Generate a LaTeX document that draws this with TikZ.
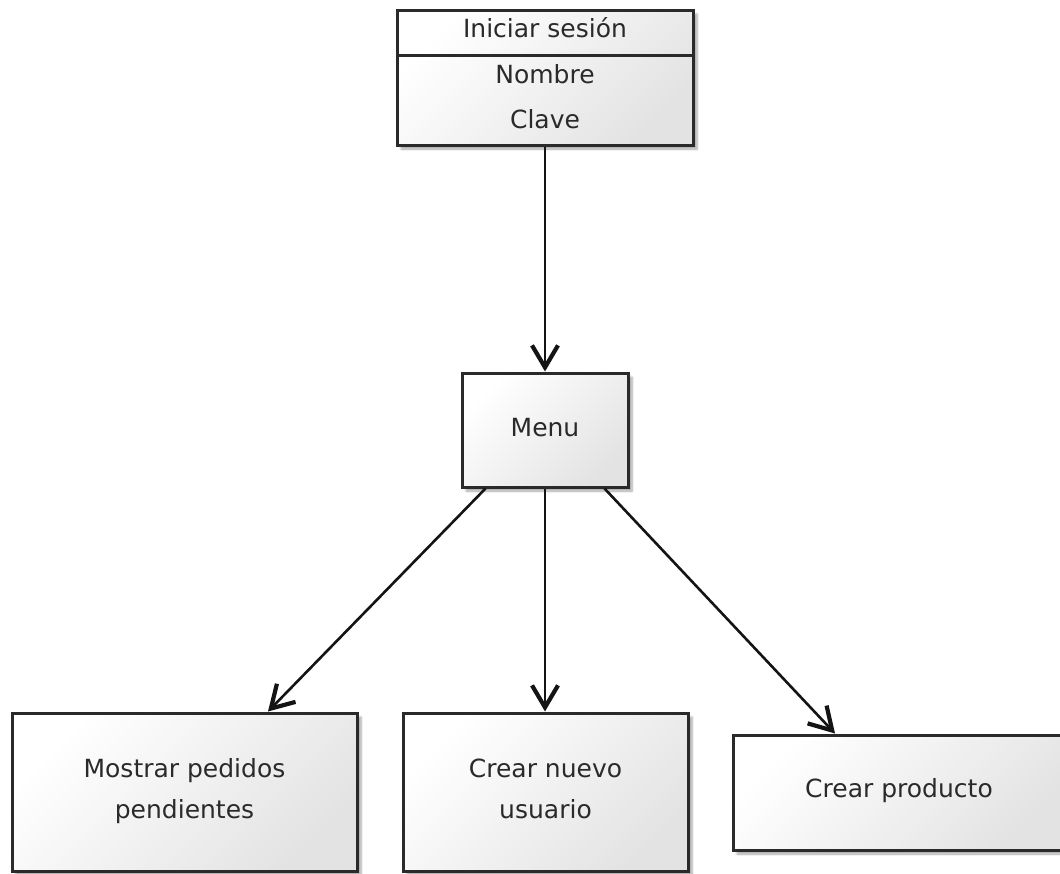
\documentclass[tikz,border=0pt]{standalone}
\usepackage{fontspec}
\setmainfont{DejaVu Sans}
\usetikzlibrary{arrows.meta,shadows.blur,calc}
\definecolor{txt}{HTML}{2A2A2A}
\definecolor{edge}{HTML}{2A2A2A}
\tikzset{
  boxstyle/.style={rectangle, draw=edge, line width=3pt, inner sep=0pt,
    top color=white, bottom color=black!11, shading angle=45,
    blur shadow={shadow xshift=4pt, shadow yshift=-4pt, shadow blur steps=6, shadow opacity=35}},
  lbl/.style={text=txt, font=\fontsize{25pt}{41pt}\selectfont, inner sep=0pt, anchor=base, align=center},
  conn/.style={draw=black!92, line width=2.6pt, -{Straight Barb[length=22pt,width=26pt,line width=4.2pt]}}
}
\begin{document}
\begin{tikzpicture}[x=1pt,y=-1pt]
\useasboundingbox (0,0) rectangle (1060,873);
% login class box
\node[boxstyle, minimum width=296pt, minimum height=135pt] (login) at (545,77.5) {};
\coordinate (divl) at (397,55);
\coordinate (divr) at (693,55);
\draw[draw=edge, line width=3pt] (divl) -- (divr);
\node[lbl] (title) at (545,37) {Iniciar sesión};
\node[lbl] (nombre) at (545,83) {Nombre};
\node[lbl] (clave) at (545,128) {Clave};
% menu
\node[boxstyle, minimum width=166pt, minimum height=114pt] (menu) at (545,430) {};
\node[lbl] (menut) at (545,436) {Menu};
% bottom boxes
\node[boxstyle, minimum width=345pt, minimum height=158pt] (left) at (184.5,792) {};
\node[lbl] (leftt) at (184.5,818) {Mostrar pedidos\\pendientes};
\node[boxstyle, minimum width=285pt, minimum height=158pt] (mid) at (545.5,792) {};
\node[lbl] (midt) at (545.5,818) {Crear nuevo\\usuario};
\node[boxstyle, minimum width=332pt, minimum height=115pt] (right) at (899,792.5) {};
\node[lbl] (rightt) at (899,797) {Crear producto};
% connectors
\draw[conn] (login.south) -- (menu.north);
\draw[conn] ([xshift=25pt]menu.south west) -- ([xshift=83.5pt]left.north);
\draw[conn] (menu.south) -- (mid.north -| menu.south);
\draw[conn] ([xshift=-25pt]menu.south east) -- ([xshift=-64pt]right.north);
\end{tikzpicture}
\end{document}
